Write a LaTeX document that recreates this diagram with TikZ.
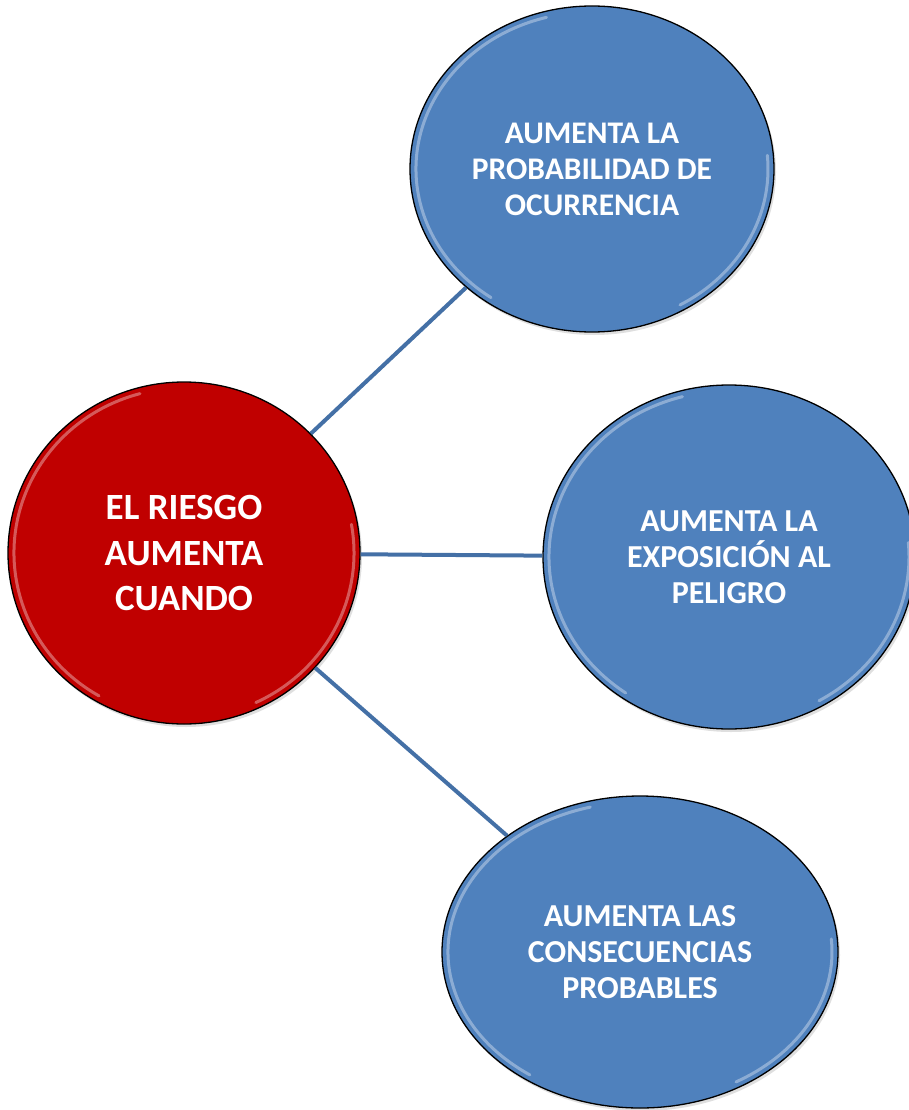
\documentclass[tikz,border=0pt]{standalone}
\usepackage{fontspec}
\setmainfont{Carlito}
\usetikzlibrary{shapes.geometric,shadows}
\definecolor{bluefill}{RGB}{79,129,189}
\definecolor{redfill}{RGB}{192,0,0}
\definecolor{linkblue}{RGB}{68,112,166}
\tikzset{
  bubble/.style={ellipse, draw=black, line width=1.3pt, inner sep=0pt,
    align=center, text=white, font=\bfseries,
    drop shadow={opacity=0.25, shadow xshift=2pt, shadow yshift=-3pt}},
  bluebubble/.style={bubble, fill=bluefill},
  redbubble/.style={bubble, fill=redfill},
  link/.style={draw=linkblue, line width=4pt},
  gloss/.style={white, line width=3pt, opacity=0.35, line cap=round}
}
\newcommand\glossarc[5]{% node, rx, ry, start, end
  \draw[gloss] ([shift={(#4:#2 and #3)}]#1.center) arc[start angle=#4, end angle=#5, x radius=#2, y radius=#3];}
\begin{document}
\begin{tikzpicture}[x=1pt,y=1pt]
\clip (0,0) rectangle (909,-1110);
\fill[white] (0,0) rectangle (909,-1110);
\node[redbubble, minimum width=352pt, minimum height=342pt,
  font=\bfseries\fontsize{37}{45.5}\selectfont] (riesgo) at (184,-553)
  {EL RIESGO\\AUMENTA\\CUANDO};
\node[bluebubble, minimum width=364pt, minimum height=326pt,
  font=\bfseries\fontsize{31.5}{36}\selectfont] (prob) at (592,-169)
  {AUMENTA LA\\PROBABILIDAD DE\\OCURRENCIA};
\node[bluebubble, minimum width=372pt, minimum height=344pt,
  font=\bfseries\fontsize{32}{36}\selectfont] (expo) at (729,-557)
  {AUMENTA LA\\EXPOSICIÓN AL\\PELIGRO};
\node[bluebubble, minimum width=396pt, minimum height=312pt,
  font=\bfseries\fontsize{32}{36}\selectfont] (cons) at (640,-952)
  {AUMENTA LAS\\CONSECUENCIAS\\PROBABLES};
\glossarc{riesgo}{170pt}{165pt}{105}{240}
\glossarc{riesgo}{170pt}{165pt}{-65}{10}
\glossarc{prob}{176pt}{157pt}{105}{235}
\glossarc{prob}{176pt}{157pt}{-60}{5}
\glossarc{expo}{180pt}{166pt}{105}{235}
\glossarc{expo}{180pt}{166pt}{-60}{5}
\glossarc{cons}{192pt}{150pt}{105}{235}
\glossarc{cons}{192pt}{150pt}{-60}{5}
\draw[link] (riesgo) -- (prob);
\draw[link] (riesgo) -- (expo);
\draw[link] (riesgo) -- (cons);
\end{tikzpicture}
\end{document}
